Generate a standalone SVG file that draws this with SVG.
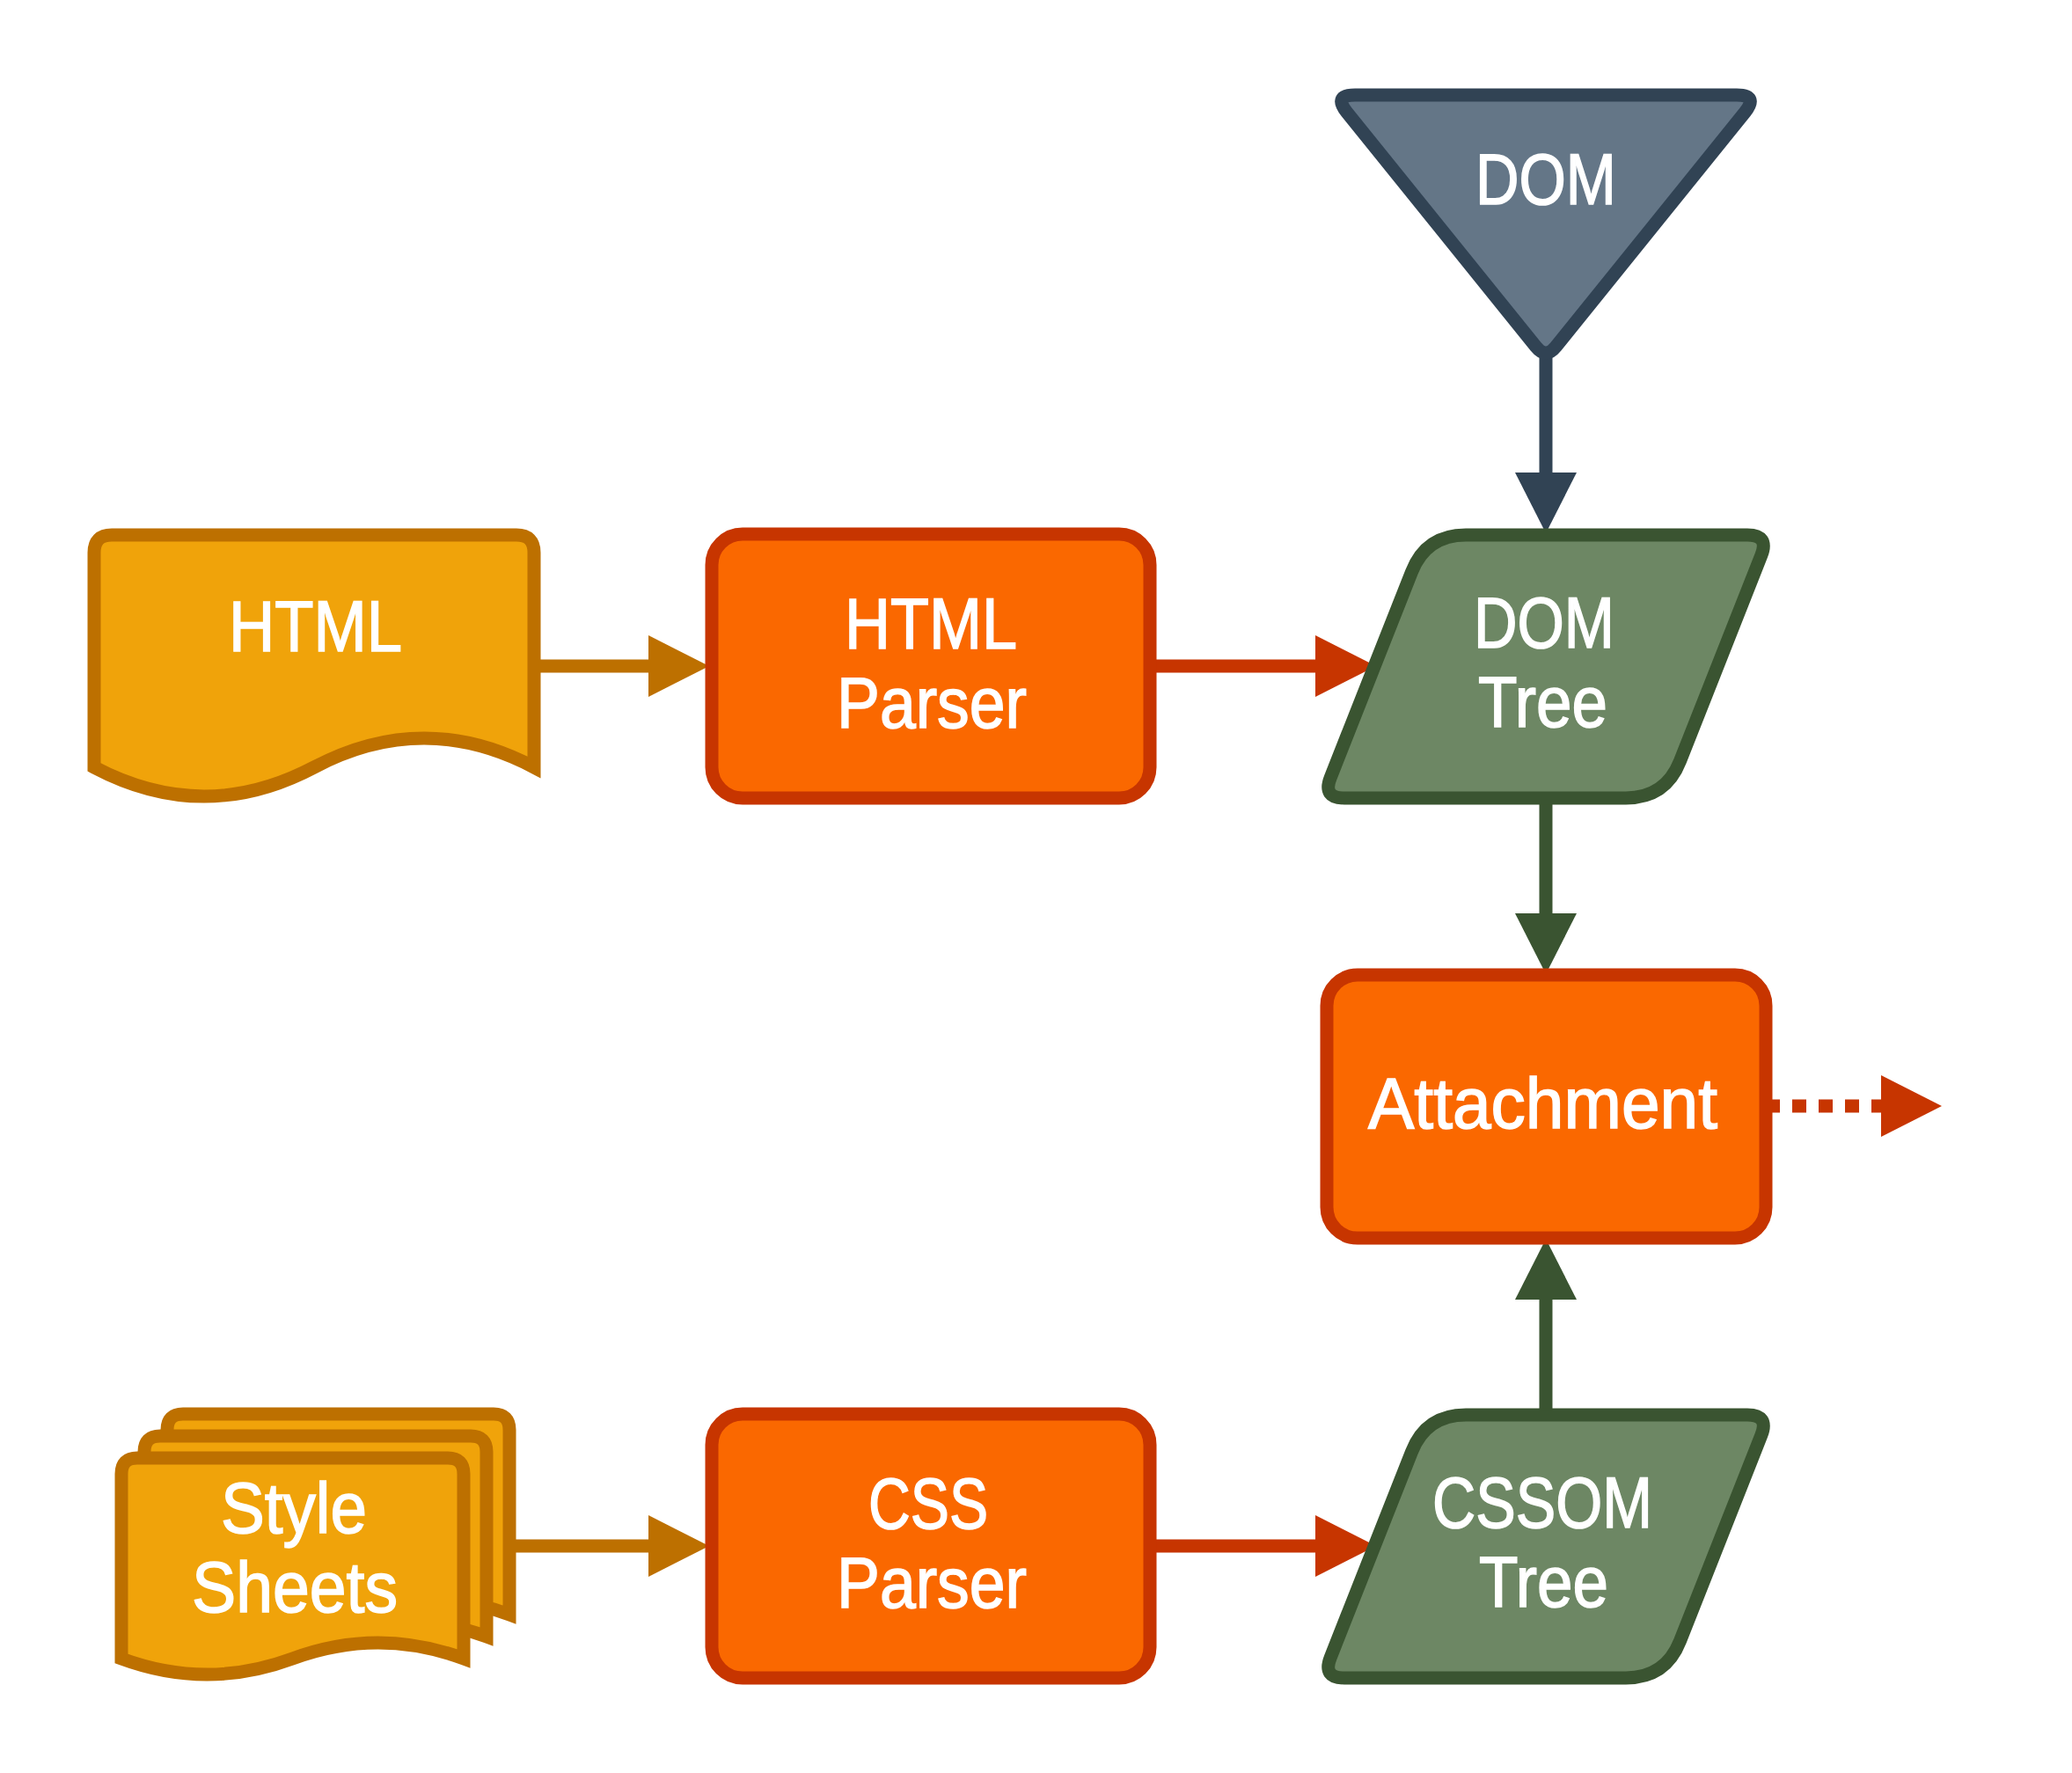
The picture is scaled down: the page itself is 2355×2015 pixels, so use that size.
<svg xmlns="http://www.w3.org/2000/svg" width="2355" height="2015" viewBox="0 0 2355 2015">
<style>
.t{font-family:"Liberation Sans",Arial,sans-serif;font-size:82px;fill:#ffffff;stroke:#ffffff;stroke-width:1.6px;}
.doc{fill:#F0A30A;stroke:#BD7000;stroke-width:15;}
.proc{fill:#FA6800;stroke:#C73500;stroke-width:15;}
.data{fill:#6D8764;stroke:#3A5431;stroke-width:15;}
.ext{fill:#647687;stroke:#314354;stroke-width:15;}
.c{fill:none;stroke-width:15;}
</style>
<defs>
<marker id="hA" markerUnits="userSpaceOnUse" markerWidth="70" markerHeight="70" refX="1" refY="35" orient="auto" viewBox="0 0 70 70"><path d="M0,0 L69,35 L0,70 Z" fill="#BD7000"/></marker>
<marker id="hR" markerUnits="userSpaceOnUse" markerWidth="70" markerHeight="70" refX="1" refY="35" orient="auto" viewBox="0 0 70 70"><path d="M0,0 L69,35 L0,70 Z" fill="#C73500"/></marker>
<marker id="hD" markerUnits="userSpaceOnUse" markerWidth="70" markerHeight="70" refX="1" refY="35" orient="auto" viewBox="0 0 70 70"><path d="M0,0 L69,35 L0,70 Z" fill="#314354"/></marker>
<marker id="hG" markerUnits="userSpaceOnUse" markerWidth="70" markerHeight="70" refX="1" refY="35" orient="auto" viewBox="0 0 70 70"><path d="M0,0 L69,35 L0,70 Z" fill="#3A5431"/></marker>
<path id="sheet" d="M138,1885 L138,1675 Q138,1657 156,1657 L509,1657 Q527,1657 527,1675 L527,1885 Q429.75,1849 332.5,1885 Q235.25,1921 138,1885 Z"/>
<path id="para" d="M1666,608 L1986,608 Q2011,608 2001.8,631.3 L1909.5,865.1 Q1893,907 1848,907 L1528,907 Q1503,907 1512.2,883.7 L1604.5,649.9 Q1621,608 1666,608 Z"/>
</defs>
<g id="connectors">
<path class="c" stroke="#BD7000" d="M607,757 L738,757" marker-end="url(#hA)"/>
<path class="c" stroke="#C73500" d="M1307,757 L1496,757" marker-end="url(#hR)"/>
<path class="c" stroke="#314354" d="M1757,401 L1757,538" marker-end="url(#hD)"/>
<path class="c" stroke="#3A5431" d="M1757,907 L1757,1039" marker-end="url(#hG)"/>
<path class="c" stroke="#3A5431" d="M1757,1608 L1757,1476" marker-end="url(#hG)"/>
<path class="c" stroke="#BD7000" d="M579,1757 L738,1757" marker-end="url(#hA)"/>
<path class="c" stroke="#C73500" d="M1307,1757 L1496,1757" marker-end="url(#hR)"/>
<path class="c" stroke="#C73500" stroke-dasharray="16 14" d="M2007,1257 L2139,1257" marker-end="url(#hR)"/>
</g>
<g id="html">
<path class="doc" d="M107,872 L107,628 Q107,608 127,608 L587,608 Q607,608 607,628 L607,872 Q482,806 357,872 Q232,938 107,872 Z"/>
<text class="t" x="260" y="740" textLength="197" lengthAdjust="spacingAndGlyphs">HTML</text>
</g>
<g id="html-parser">
<rect class="proc" x="809" y="607" width="498" height="300" rx="35" ry="35"/>
<text class="t" x="960" y="737" textLength="196" lengthAdjust="spacingAndGlyphs">HTML</text>
<text class="t" x="951" y="827" textLength="216" lengthAdjust="spacingAndGlyphs">Parser</text>
</g>
<g id="dom">
<path class="ext" d="M1540,108 L1974,108 Q1999,108 1983.3,127.5 L1768.3,394 Q1757,408 1745.7,394 L1530.7,127.5 Q1515,108 1540,108 Z"/>
<text class="t" x="1677" y="232" textLength="160" lengthAdjust="spacingAndGlyphs">DOM</text>
</g>
<g id="dom-tree">
<use href="#para" class="data"/>
<text class="t" x="1675" y="736" textLength="160" lengthAdjust="spacingAndGlyphs">DOM</text>
<text class="t" x="1680" y="826" textLength="147" lengthAdjust="spacingAndGlyphs">Tree</text>
</g>
<g id="attachment">
<rect class="proc" x="1508" y="1108" width="499" height="299" rx="35" ry="35"/>
<text class="t" x="1555" y="1282" textLength="397" lengthAdjust="spacingAndGlyphs">Attachment</text>
</g>
<g id="style-sheets">
<use href="#sheet" class="doc" transform="translate(52,-50)"/>
<use href="#sheet" class="doc" transform="translate(26,-25)"/>
<use href="#sheet" class="doc"/>
<text class="t" x="251" y="1742" textLength="166" lengthAdjust="spacingAndGlyphs">Style</text>
<text class="t" x="218" y="1832" textLength="234" lengthAdjust="spacingAndGlyphs">Sheets</text>
</g>
<g id="css-parser">
<rect class="proc" x="809" y="1607" width="498" height="300" rx="35" ry="35"/>
<text class="t" x="987" y="1737" textLength="136" lengthAdjust="spacingAndGlyphs">CSS</text>
<text class="t" x="951" y="1827" textLength="216" lengthAdjust="spacingAndGlyphs">Parser</text>
</g>
<g id="cssom-tree">
<use href="#para" class="data" transform="translate(0,1000)"/>
<text class="t" x="1628" y="1736" textLength="250" lengthAdjust="spacingAndGlyphs">CSSOM</text>
<text class="t" x="1681" y="1826" textLength="147" lengthAdjust="spacingAndGlyphs">Tree</text>
</g>
</svg>
